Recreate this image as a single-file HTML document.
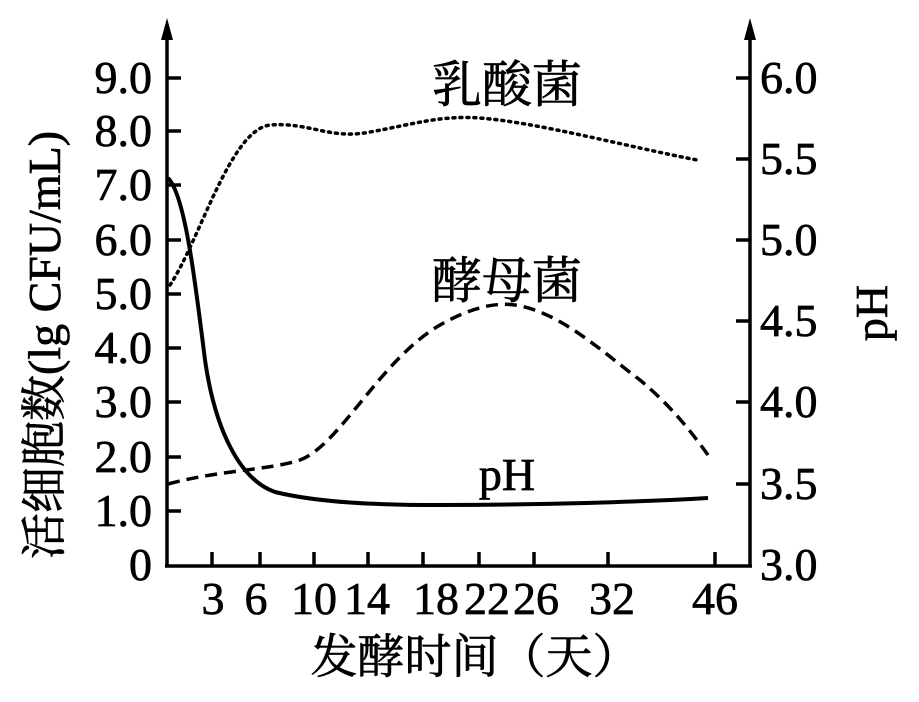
<!DOCTYPE html><html><head><meta charset="utf-8"><style>body{margin:0;background:#fff}svg{display:block}text{font-family:"Liberation Serif","Noto Serif CJK SC",serif;fill:#000;stroke:#000;stroke-width:0.7}</style></head><body>
<svg width="919" height="702" viewBox="0 0 919 702">
<g stroke="#000" stroke-width="3.5" fill="none">
<line x1="167" y1="566" x2="167" y2="35"/>
<line x1="750" y1="566" x2="750" y2="35"/>
<line x1="165" y1="566" x2="752" y2="566"/>
</g>
<polygon points="167,18 161,40 173,40" fill="#000"/>
<polygon points="750,18 744,40 756,40" fill="#000"/>
<g stroke="#000" stroke-width="3.5">
<line x1="167" y1="78" x2="181" y2="78"/><line x1="167" y1="131" x2="181" y2="131"/><line x1="167" y1="185" x2="181" y2="185"/><line x1="167" y1="240" x2="181" y2="240"/><line x1="167" y1="294" x2="181" y2="294"/><line x1="167" y1="348" x2="181" y2="348"/><line x1="167" y1="402" x2="181" y2="402"/><line x1="167" y1="457" x2="181" y2="457"/><line x1="167" y1="511" x2="181" y2="511"/>
<line x1="736" y1="78" x2="750" y2="78"/><line x1="736" y1="159" x2="750" y2="159"/><line x1="736" y1="240" x2="750" y2="240"/><line x1="736" y1="321" x2="750" y2="321"/><line x1="736" y1="402" x2="750" y2="402"/><line x1="736" y1="484" x2="750" y2="484"/>
<line x1="212" y1="566" x2="212" y2="552"/><line x1="260" y1="566" x2="260" y2="552"/><line x1="314" y1="566" x2="314" y2="552"/><line x1="368" y1="566" x2="368" y2="552"/><line x1="423" y1="566" x2="423" y2="552"/><line x1="479" y1="566" x2="479" y2="552"/><line x1="534" y1="566" x2="534" y2="552"/><line x1="608" y1="566" x2="608" y2="552"/><line x1="715" y1="566" x2="715" y2="552"/>
</g>
<g font-size="46" text-anchor="end">
<text x="152" y="93">9.0</text><text x="152" y="146">8.0</text><text x="152" y="200">7.0</text><text x="152" y="255">6.0</text><text x="152" y="309">5.0</text><text x="152" y="363">4.0</text><text x="152" y="417">3.0</text><text x="152" y="472">2.0</text><text x="152" y="526">1.0</text><text x="152" y="580">0</text>
</g>
<g font-size="46">
<text x="760" y="93">6.0</text><text x="760" y="174">5.5</text><text x="760" y="255">5.0</text><text x="760" y="336">4.5</text><text x="760" y="417">4.0</text><text x="760" y="499">3.5</text><text x="760" y="580">3.0</text>
</g>
<g font-size="46" text-anchor="middle">
<text x="213" y="614">3</text><text x="256" y="614">6</text><text x="314" y="614">10</text><text x="367" y="614">14</text><text x="436" y="614">18</text><text x="487" y="614">22</text><text x="536" y="614">26</text><text x="612" y="614">32</text><text x="715" y="614">46</text>
</g>
<text x="475" y="673" font-size="47" text-anchor="middle">发酵时间（天）</text>
<text transform="translate(60,345) rotate(-90)" font-size="46" text-anchor="middle">活细胞数(lg CFU/mL)</text>
<text transform="translate(887,313) rotate(-90)" font-size="46" text-anchor="middle">pH</text>
<text x="507" y="102" font-size="50" text-anchor="middle">乳酸菌</text>
<text x="507" y="298" font-size="50" text-anchor="middle">酵母菌</text>
<text x="507" y="490" font-size="46" text-anchor="middle">pH</text>
<g fill="none" stroke="#000">
<path d="M170,285 C200,240 230,130 270,125 C310,122 330,140 370,132 C410,125 440,115 480,118 C540,123 620,145 697,160" stroke-width="3.5" stroke-dasharray="2,5" stroke-linecap="round"/>
<path d="M168,484 C220,470 270,470 300,460 C340,445 380,360 440,325 C470,308 495,302 515,305 C560,312 600,350 640,380 C670,405 690,430 708,455" stroke-width="3.5" stroke-dasharray="12,7"/>
<path d="M168,178 C185,195 195,280 205,360 C215,430 240,480 275,492 C320,503 380,505 440,505 C540,505 640,502 708,498" stroke-width="4"/>
</g>
</svg></body></html>
